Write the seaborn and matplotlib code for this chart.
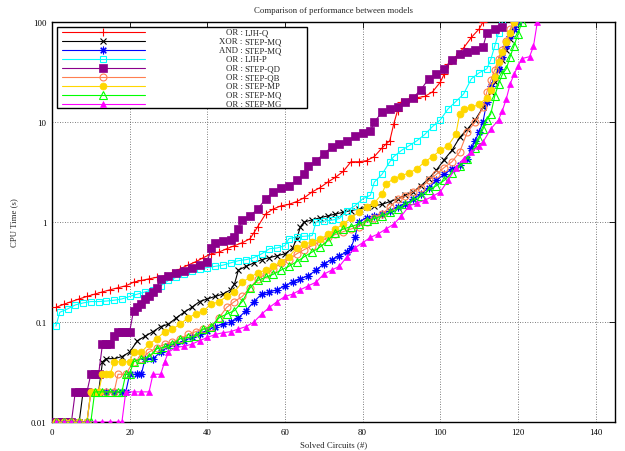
import matplotlib
matplotlib.use("Agg")
import matplotlib.pyplot as plt
import matplotlib.ticker as mticker
from matplotlib.patches import Rectangle
from matplotlib.lines import Line2D
import seaborn as sns
import pandas as pd

sns.set_theme(style="white")
plt.rcParams['font.family'] = ['Liberation Serif', 'DejaVu Serif']
FS = 6.3

# --- data (solved circuits vs CPU time) ---
LJH_Q_X = [1, 3, 5, 7, 9, 11, 13, 15, 17, 19, 21, 23, 25, 27, 29, 31, 33, 35, 37, 39, 41, 43, 45, 47, 49, 51, 52, 53,
           55, 57, 59, 61, 63, 65, 67, 69, 71, 73, 75, 77, 79, 81, 83, 85, 86, 87, 88, 89, 90, 92, 94, 96, 98, 100,
           101, 102, 104, 106, 108, 110, 111]
LJH_Q_Y = [0.14, 0.15, 0.16, 0.17, 0.18, 0.19, 0.2, 0.21, 0.22, 0.23, 0.25, 0.26, 0.27, 0.28, 0.29, 0.31, 0.34, 0.37,
           0.4, 0.44, 0.48, 0.5, 0.54, 0.58, 0.62, 0.68, 0.78, 0.9,
           1.2, 1.35, 1.45, 1.5, 1.6, 1.75, 2.0, 2.2, 2.5, 2.8, 3.2, 4.0, 4.0, 4.1, 4.5, 5.5, 6.0, 6.5, 9.5, 13, 16,
           17, 17.5, 18, 20, 25, 30, 38, 45, 55, 70, 85, 100]

XOR_MQ_X = [1, 3, 5, 7, 8, 10, 12, 13, 14, 16, 18, 20, 22, 24, 26, 28, 30, 32, 34, 36, 38, 40, 42, 44, 46, 47, 48,
            50, 52, 54, 56, 58, 60, 62, 63, 64, 65, 67, 69, 71, 73, 75, 77, 79, 81, 83, 85, 87, 89, 91, 93, 95, 97,
            99, 101, 103, 105, 107, 109, 111, 113, 114, 115, 116, 117, 118, 119, 120]
XOR_MQ_Y = [0.01, 0.01, 0.01, 0.01, 0.02, 0.02, 0.02, 0.04, 0.043, 0.043, 0.045, 0.05, 0.065, 0.072, 0.08, 0.09,
            0.095, 0.11, 0.125, 0.14, 0.16, 0.17, 0.18, 0.19, 0.21, 0.24, 0.33, 0.36, 0.39, 0.42, 0.44, 0.46, 0.48,
            0.55, 0.68, 0.9, 1.0, 1.05, 1.1, 1.15, 1.2, 1.25, 1.3, 1.35, 1.4, 1.45, 1.5, 1.6, 1.7, 1.85, 2.0, 2.3,
            2.7, 3.3, 4.2, 5.2, 7.0, 8.5, 10.5, 14, 20, 25, 33, 42, 52, 68, 85, 100]

AND_MQ_X = [1, 3, 5, 7, 9, 10, 12, 14, 16, 18, 19, 20, 22, 23, 24, 26, 28, 30, 32, 34, 36, 38, 40, 42, 44, 46, 48,
            50, 52, 54, 56, 58, 60, 62, 64, 66, 68, 70, 72, 74, 76, 77, 78, 79, 81, 83, 85, 87, 89, 91, 93, 95, 97,
            99, 101, 103, 105, 107, 108, 109, 110, 111, 112, 113, 114, 115, 116, 117, 118, 119, 120]
AND_MQ_Y = [0.01, 0.01, 0.01, 0.01, 0.01, 0.02, 0.02, 0.02, 0.02, 0.02, 0.02, 0.03, 0.03, 0.03, 0.043, 0.043, 0.05,
            0.057, 0.06, 0.065, 0.07, 0.075, 0.082, 0.09, 0.095, 0.1, 0.11, 0.13, 0.16, 0.19, 0.2, 0.21, 0.23, 0.25,
            0.27, 0.29, 0.33, 0.38, 0.42, 0.46, 0.5, 0.55, 0.7, 1.0, 1.1, 1.15, 1.2, 1.3, 1.4, 1.5, 1.7, 1.9, 2.2,
            2.6, 3.0, 3.4, 3.7, 4.3, 5.5, 6.5, 8, 10, 16, 23, 28, 34, 45, 58, 72, 85, 100]

LJH_P_X = [1, 2, 4, 6, 8, 10, 12, 14, 16, 18, 20, 22, 24, 26, 28, 30, 32, 34, 36, 38, 40, 42, 44, 46, 48, 50, 52,
           54, 56, 58, 60, 61, 63, 65, 67, 68, 70, 72, 74, 76, 78, 80, 82, 83, 85, 87, 88, 90, 92, 94, 96, 98, 100,
           102, 104, 106, 108, 110, 112, 113, 114, 115, 116]
LJH_P_Y = [0.091, 0.125, 0.135, 0.148, 0.155, 0.16, 0.16, 0.162, 0.165, 0.17, 0.18, 0.19, 0.2, 0.21, 0.23, 0.26,
           0.28, 0.3, 0.32, 0.34, 0.35, 0.36, 0.37, 0.39, 0.41, 0.42, 0.44, 0.48, 0.54, 0.55, 0.58, 0.68, 0.71,
           0.72, 0.73, 1.0, 1.02, 1.04, 1.08, 1.3, 1.45, 1.7, 1.85, 2.5, 3.0, 4.0, 4.5, 5.2, 5.8, 6.5, 7.5, 9.0,
           10.5, 13.5, 16, 19, 27, 31, 34, 42, 57, 78, 100]

QD_X = [1, 2, 3, 4, 5, 6, 7, 8, 9, 10, 11, 12, 13, 14, 15, 16, 17, 18, 19, 20, 21, 22, 23, 24, 25, 26, 27, 28, 30,
        32, 34, 36, 38, 40, 41, 42, 44, 46, 47, 48, 49, 51, 53, 55, 57, 59, 61, 63, 65, 66, 68, 70, 72, 74, 76, 78,
        80, 82, 83, 85, 87, 89, 91, 93, 95, 97, 99, 101, 103, 105, 107, 109, 111, 112, 114, 116]
QD_Y = [0.01, 0.01, 0.01, 0.01, 0.01, 0.02, 0.02, 0.02, 0.02, 0.03, 0.03, 0.03, 0.06, 0.06, 0.06, 0.072, 0.08, 0.08,
        0.08, 0.08, 0.13, 0.14, 0.15, 0.17, 0.18, 0.2, 0.22, 0.27, 0.29, 0.31, 0.32, 0.35, 0.37, 0.4, 0.55, 0.62,
        0.64, 0.66, 0.7, 0.85, 1.05, 1.15, 1.35, 1.7, 2.0, 2.2, 2.3, 2.6, 3.0, 3.6, 4.1, 4.8, 5.6, 6.0, 6.4, 7.2,
        7.8, 8.1, 10, 12.5, 13.5, 14, 16, 17.5, 21, 27, 30, 34, 42, 48, 50, 53, 56, 78, 85, 90]

QB_X = [1, 3, 5, 7, 9, 10, 12, 14, 16, 17, 19, 21, 23, 25, 27, 29, 31, 33, 35, 37, 39, 41, 43, 45, 47, 49, 51, 53,
        55, 57, 59, 61, 63, 65, 67, 69, 71, 73, 75, 77, 79, 81, 83, 85, 87, 89, 91, 93, 95, 97, 99, 101, 103, 105,
        107, 109, 111, 112, 113, 114, 115, 116, 117, 118, 119]
QB_Y = [0.01, 0.01, 0.01, 0.01, 0.01, 0.02, 0.02, 0.02, 0.02, 0.03, 0.03, 0.04, 0.043, 0.05, 0.055, 0.06, 0.063,
        0.068, 0.075, 0.08, 0.085, 0.09, 0.11, 0.14, 0.16, 0.18, 0.22, 0.27, 0.3, 0.34, 0.39, 0.42, 0.48, 0.53,
        0.58, 0.63, 0.7, 0.75, 0.8, 0.85, 0.9, 1.0, 1.1, 1.2, 1.4, 1.7, 1.8, 2.0, 2.2, 2.6, 3.0, 3.5, 4.0, 5.0, 8,
        10, 14, 20, 26, 33, 43, 53, 65, 85, 100]

MP_X = [1, 3, 5, 7, 9, 10, 11, 12, 13, 14, 15, 16, 18, 20, 21, 23, 25, 27, 29, 31, 33, 35, 37, 39, 41, 43, 45, 47,
        49, 51, 53, 55, 57, 59, 61, 63, 65, 67, 69, 71, 73, 75, 77, 79, 81, 83, 85, 86, 88, 90, 92, 94, 96, 98,
        100, 102, 104, 105, 106, 108, 110, 112, 113, 114, 115, 116, 117, 118, 119]
MP_Y = [0.01, 0.01, 0.01, 0.01, 0.01, 0.02, 0.02, 0.02, 0.03, 0.03, 0.03, 0.04, 0.04, 0.04, 0.05, 0.05, 0.06, 0.068,
        0.08, 0.085, 0.095, 0.11, 0.12, 0.13, 0.15, 0.16, 0.18, 0.2, 0.25, 0.28, 0.31, 0.33, 0.36, 0.4, 0.45, 0.55,
        0.6, 0.63, 0.67, 0.75, 0.85, 0.95, 1.1, 1.25, 1.4, 1.55, 1.9, 2.4, 2.7, 2.9, 3.1, 3.4, 4.0, 4.5, 5.2, 5.8,
        7.5, 12, 13.5, 14, 15, 17.5, 21, 28, 40, 50, 63, 78, 100]

OR_MQ_X = [1, 3, 5, 7, 9, 10, 11, 13, 15, 17, 18, 19, 20, 21, 23, 25, 27, 29, 31, 33, 35, 37, 39, 41, 43, 45, 47,
           49, 51, 53, 55, 57, 59, 61, 63, 65, 67, 69, 71, 73, 75, 77, 79, 81, 83, 85, 87, 89, 91, 93, 95, 97, 99,
           101, 103, 105, 107, 109, 110, 111, 112, 113, 114, 115, 116, 117, 118, 119, 120, 121]
OR_MQ_Y = [0.01, 0.01, 0.01, 0.01, 0.01, 0.01, 0.02, 0.02, 0.02, 0.02, 0.02, 0.03, 0.03, 0.04, 0.043, 0.045, 0.054,
           0.056, 0.06, 0.068, 0.07, 0.072, 0.085, 0.09, 0.11, 0.12, 0.13, 0.16, 0.22, 0.26, 0.28, 0.3, 0.33, 0.36,
           0.4, 0.45, 0.5, 0.56, 0.65, 0.78, 0.85, 0.9, 0.95, 1.02, 1.08, 1.15, 1.25, 1.35, 1.5, 1.65, 1.8, 2.1,
           2.3, 2.6, 3.1, 3.6, 4.3, 5.5, 6.8, 8.5, 10.5, 12, 18, 24, 30, 34, 45, 58, 75, 100]

MG_X = [1, 3, 5, 7, 9, 11, 13, 15, 17, 18, 19, 21, 23, 25, 26, 28, 29, 30, 32, 34, 36, 38, 40, 42, 44, 46, 48, 50,
        52, 54, 56, 58, 60, 62, 64, 66, 68, 70, 72, 74, 76, 78, 80, 82, 84, 86, 88, 90, 92, 94, 96, 98, 100, 102,
        104, 106, 108, 110, 111, 113, 115, 116, 117, 118, 119, 120, 121, 123, 124, 125]
MG_Y = [0.01, 0.01, 0.01, 0.01, 0.01, 0.01, 0.01, 0.01, 0.01, 0.01, 0.02, 0.02, 0.02, 0.02, 0.03, 0.03, 0.04, 0.05,
        0.056, 0.057, 0.06, 0.065, 0.07, 0.075, 0.078, 0.08, 0.085, 0.09, 0.1, 0.12, 0.14, 0.16, 0.18, 0.19, 0.21,
        0.23, 0.25, 0.3, 0.33, 0.36, 0.45, 0.55, 0.62, 0.7, 0.76, 0.85, 0.95, 1.15, 1.45, 1.55, 1.65, 1.8, 2.0,
        2.6, 3.5, 4.3, 5.0, 5.8, 6.3, 8.5, 10.5, 13, 17, 24, 30, 36, 43, 45, 57, 100]

LABELS = ["OR : LJH-Q", "XOR : STEP-MQ", "AND : STEP-MQ", "OR : LJH-P", "OR : STEP-QD",
          "OR : STEP-QB", "OR : STEP-MP", "OR : STEP-MQ", "OR : STEP-MG"]
DATA = [(LJH_Q_X, LJH_Q_Y), (XOR_MQ_X, XOR_MQ_Y), (AND_MQ_X, AND_MQ_Y), (LJH_P_X, LJH_P_Y), (QD_X, QD_Y),
        (QB_X, QB_Y), (MP_X, MP_Y), (OR_MQ_X, OR_MQ_Y), (MG_X, MG_Y)]

# gnuplot-like point types
STYLES = [
    dict(color='#ff0000', marker='+', ms=5.5, mfc='none', mew=0.8),
    dict(color='#000000', marker='x', ms=4.5, mfc='none', mew=0.8),
    dict(color='#0000ff', marker=(8, 2, 0), ms=5.5, mfc='none', mew=0.8),
    dict(color='#00ffff', marker='s', ms=5, mfc='none', mew=0.8),
    dict(color='#8b008b', marker='s', ms=6, mfc='#8b008b', mew=0.5),
    dict(color='#ff7f50', marker='o', ms=5, mfc='none', mew=0.8),
    dict(color='#ffd700', marker='o', ms=5, mfc='#ffd700', mew=0.5),
    dict(color='#00ff00', marker='^', ms=5.5, mfc='none', mew=0.8),
    dict(color='#ff00ff', marker='^', ms=4, mfc='#ff00ff', mew=0.5),
]

fig = plt.figure(figsize=(6.25, 4.52), dpi=100)
ax = fig.add_axes([0.0832, 0.0642, 0.9008, 0.885])
ax.set_facecolor('white')

for (xs, ys), st in zip(DATA, STYLES):
    df = pd.DataFrame({'solved': xs, 'cpu': ys})
    sns.lineplot(data=df, x='solved', y='cpu', ax=ax, color=st['color'], lw=0.8,
                 marker=st['marker'], ms=st['ms'], markerfacecolor=st['mfc'],
                 markeredgecolor=st['color'], markeredgewidth=st['mew'],
                 legend=False, errorbar=None, zorder=3)

ax.set_yscale('log')
ax.set_ylim(0.01, 100)
ax.set_xlim(0, 145)
ax.set_xticks(range(0, 141, 20))
ax.set_yticks([0.01, 0.1, 1, 10, 100])
ax.yaxis.set_major_formatter(mticker.FuncFormatter(lambda v, p: f"{v:g}"))
ax.yaxis.set_minor_locator(mticker.NullLocator())
ax.tick_params(direction='in', top=True, right=True, length=4, width=0.6,
               labelsize=FS, pad=4, colors='black')
ax.grid(True, which='major', linestyle=(0, (1, 2)), color='#555555', lw=0.6)
ax.set_axisbelow(True)
for sp in ax.spines.values():
    sp.set_color('black')
    sp.set_linewidth(1.0)

ax.set_xlabel('Solved Circuits (#)', fontsize=FS, labelpad=3)
ax.set_ylabel('CPU Time (s)', fontsize=FS, labelpad=9)
ax.set_title('Comparison of performance between models', fontsize=FS, pad=7)

# legend box (gnuplot style: sample on the left, text aligned on the colon)
tr = ax.transAxes
ax.add_patch(Rectangle((0.0089, 0.785), 0.444, 0.2025, transform=tr, fc='white',
                       ec='black', lw=1.0, zorder=10, clip_on=False))
for i, (lab, st) in enumerate(zip(LABELS, STYLES)):
    yf = (423 - (33.3 + 8.95 * i)) / 400
    ax.add_line(Line2D([0.0178, 0.165], [yf, yf], transform=tr, color=st['color'], lw=0.8, zorder=11))
    ax.add_line(Line2D([0.0906], [yf], transform=tr, color=st['color'], marker=st['marker'],
                       ms=st['ms'], mfc=st['mfc'], mec=st['color'], mew=st['mew'], zorder=12))
    left, right = lab.split(' : ')
    ax.text(0.3385, yf, left + ' :', transform=tr, ha='right', va='center', fontsize=FS, zorder=12)
    ax.text(0.3425, yf, right, transform=tr, ha='left', va='center', fontsize=FS, zorder=12)

fig.savefig('out.png', dpi=100)
